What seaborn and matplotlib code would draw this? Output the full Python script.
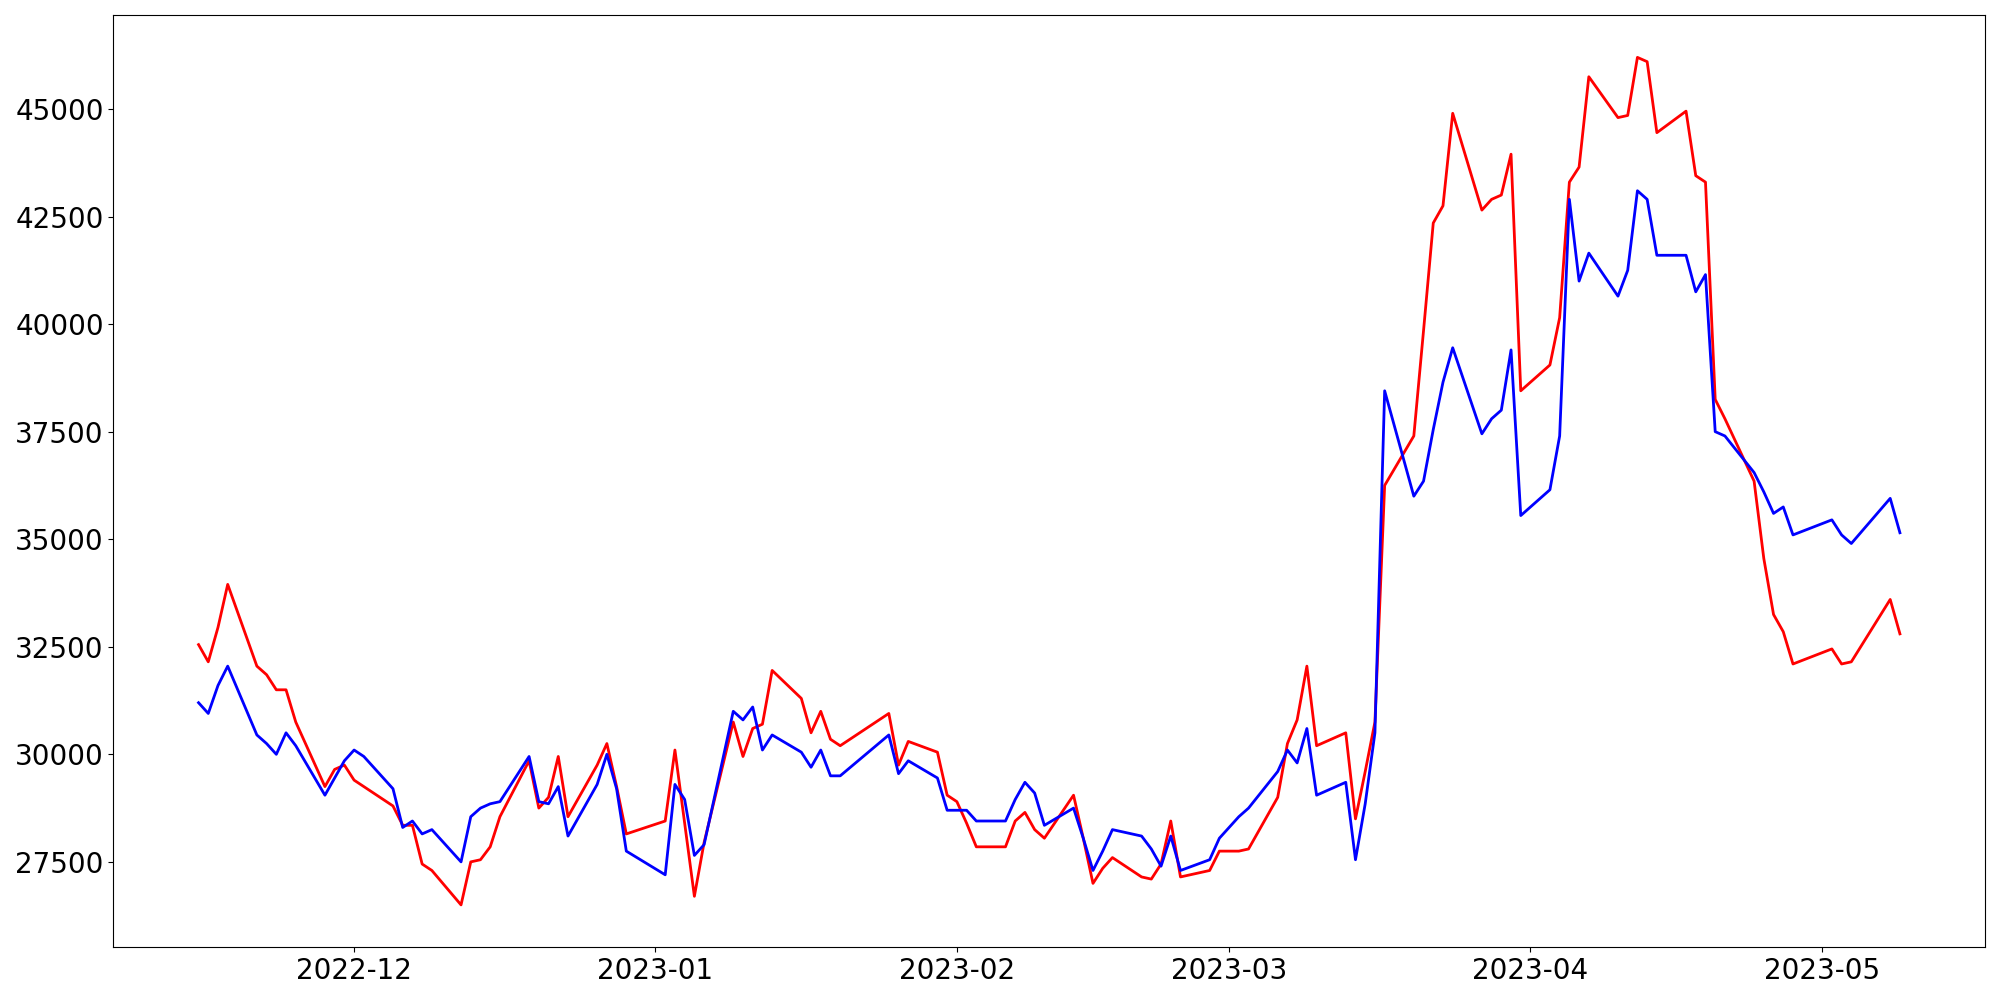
# %%
import numpy as np
import pandas as pd
import matplotlib
matplotlib.use("Agg")
import matplotlib.pyplot as plt
import seaborn as sns

# %%
# trading days (KRX calendar) per month
days_2022_11 = [15, 16, 17, 18, 21, 22, 23, 24, 25, 28, 29, 30]
days_2022_12 = [1, 2, 5, 6, 7, 8, 9, 12, 13, 14, 15, 16, 19, 20, 21, 22, 23, 26, 27, 28, 29]
days_2023_01 = [2, 3, 4, 5, 6, 9, 10, 11, 12, 13, 16, 17, 18, 19, 20, 25, 26, 27, 30, 31]
days_2023_02 = [1, 2, 3, 6, 7, 8, 9, 10, 13, 14, 15, 16, 17, 20, 21, 22, 23, 24, 27, 28]
days_2023_03 = [2, 3, 6, 7, 8, 9, 10, 13, 14, 15, 16, 17, 20, 21, 22, 23, 24, 27, 28, 29, 30, 31]
days_2023_04 = [3, 4, 5, 6, 7, 10, 11, 12, 13, 14, 17, 18, 19, 20, 21, 24, 25, 26, 27, 28]
days_2023_05 = [2, 3, 4, 8, 9]

red_values = [
  # Nov
  32550, 32150, 32950, 33950, 32050, 31850, 31500, 31500, 30750, 29250, 29650, 29750,
  # Dec
  29400, 29250, 28800, 28350, 28350, 27450, 27300, 26500, 27500, 27550, 27850, 28550,
  29850, 28750, 29000, 29950, 28550, 29750, 30250, 29250, 28150,
  # Jan
  28450, 30100, 28400, 26700, 27950, 30750, 29950, 30600, 30700, 31950, 31300, 30500,
  31000, 30350, 30200, 30950, 29750, 30300, 30050, 29050,
  # Feb
  28900, 28400, 27850, 27850, 28450, 28650, 28250, 28050, 29050, 28050, 27000, 27350,
  27600, 27150, 27100, 27450, 28450, 27150, 27300, 27750,
  # Mar
  27750, 27800, 29000, 30250, 30800, 32050, 30200, 30500, 28500, 29600, 30750, 36250,
  37400, 39850, 42350, 42750, 44900, 42650, 42900, 43000, 43950, 38450,
  # Apr
  39050, 40150, 43300, 43650, 45750, 44800, 44850, 46200, 46100, 44450, 44950, 43450,
  43300, 38250, 37800, 36350, 34550, 33250, 32850, 32100,
  # May
  32450, 32100, 32150, 33600, 32800,
]

blue_values = [
  # Nov
  31200, 30950, 31600, 32050, 30450, 30250, 30000, 30500, 30200, 29050, 29450, 29850,
  # Dec
  30100, 29950, 29200, 28300, 28450, 28150, 28250, 27500, 28550, 28750, 28850, 28900,
  29950, 28900, 28850, 29250, 28100, 29300, 30000, 29200, 27750,
  # Jan
  27200, 29300, 28950, 27650, 27900, 31000, 30800, 31100, 30100, 30450, 30050, 29700,
  30100, 29500, 29500, 30450, 29550, 29850, 29450, 28700,
  # Feb
  28700, 28700, 28450, 28450, 28950, 29350, 29100, 28350, 28750, 28050, 27300, 27750,
  28250, 28100, 27800, 27400, 28100, 27300, 27550, 28050,
  # Mar
  28550, 28750, 29600, 30100, 29800, 30600, 29050, 29350, 27550, 28850, 30500, 38450,
  36000, 36350, 37550, 38650, 39450, 37450, 37800, 38000, 39400, 35550,
  # Apr
  36150, 37400, 42900, 41000, 41650, 40650, 41250, 43100, 42900, 41600, 41600, 40750,
  41150, 37500, 37400, 36550, 36100, 35600, 35750, 35100,
  # May
  35450, 35100, 34900, 35950, 35150,
]

# %%
dates = pd.to_datetime(
  [f"2022-11-{d:02d}" for d in days_2022_11]
  + [f"2022-12-{d:02d}" for d in days_2022_12]
  + [f"2023-01-{d:02d}" for d in days_2023_01]
  + [f"2023-02-{d:02d}" for d in days_2023_02]
  + [f"2023-03-{d:02d}" for d in days_2023_03]
  + [f"2023-04-{d:02d}" for d in days_2023_04]
  + [f"2023-05-{d:02d}" for d in days_2023_05]
)
df = pd.DataFrame({"date": dates, "red": red_values, "blue": blue_values})

# %%
fig = plt.figure(figsize=(20, 10), dpi=100)
ax = fig.add_subplot(111)
sns.lineplot(data=df, x="date", y="red", color="red", linewidth=2, ax=ax)
sns.lineplot(data=df, x="date", y="blue", color="blue", linewidth=2, ax=ax)
ax.set_xlabel("")
ax.set_ylabel("")
ax.tick_params(labelsize=20)
fig.tight_layout()
plt.savefig("out.png")
